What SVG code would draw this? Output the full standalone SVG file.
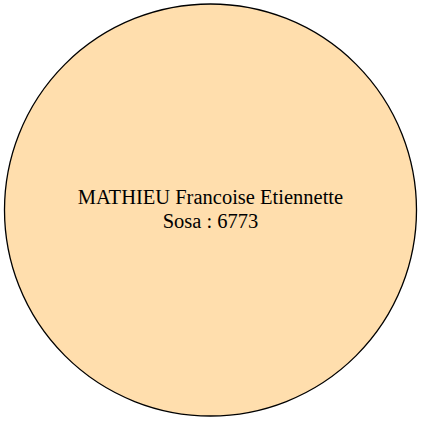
<svg xmlns="http://www.w3.org/2000/svg" width="422" height="422" viewBox="0 0 422 422">
<style>
.node{fill:#FFDEAD;stroke:#000;stroke-width:1.3}
.lbl{font-family:'Liberation Serif','Times New Roman',serif;font-size:20.5px;fill:#000;text-anchor:middle}
</style>
<rect width="422" height="422" fill="#fff"/>
<g id="connectors"></g>
<g id="node1">
<ellipse class="node" cx="210.5" cy="210" rx="206" ry="206"/>
<text class="lbl" x="210.5" y="204">MATHIEU Francoise Etiennette</text>
<text class="lbl" x="210.5" y="228">Sosa : 6773</text>
</g>
</svg>
